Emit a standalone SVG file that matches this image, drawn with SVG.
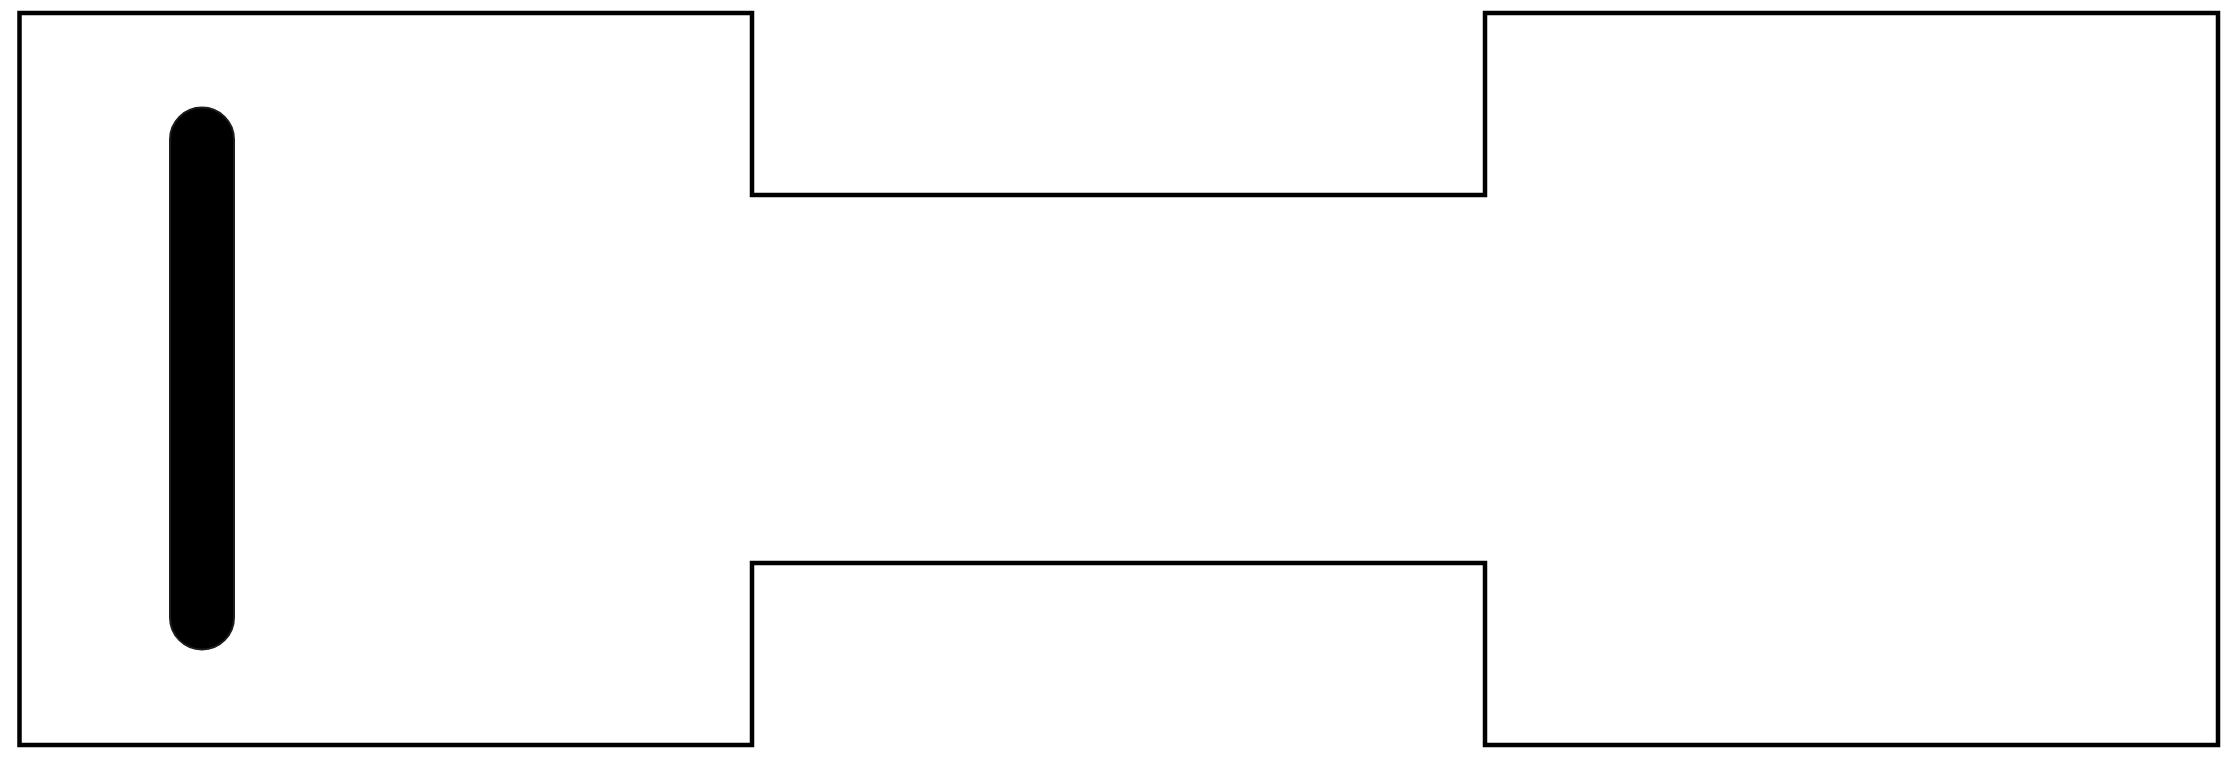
<svg xmlns="http://www.w3.org/2000/svg" width="2238" height="758" viewBox="0 0 2238 758">
<style>
.wall{fill:none;stroke:#000;stroke-width:4.5;stroke-linecap:square;stroke-linejoin:miter}
.bar{fill:#000;stroke:#1c1c1c;stroke-width:2}
</style>
<rect x="0" y="0" width="2238" height="758" fill="#fff"/>
<g id="outline">
<polygon class="wall" points="19.5,13 752,13 752,195 1485,195 1485,13 2218,13 2218,745 1485,745 1485,563 752,563 752,745 19.5,745"/>
</g>
<g id="bar">
<rect class="bar" x="170" y="107.5" width="64" height="542" rx="32" ry="32"/>
</g>
</svg>
